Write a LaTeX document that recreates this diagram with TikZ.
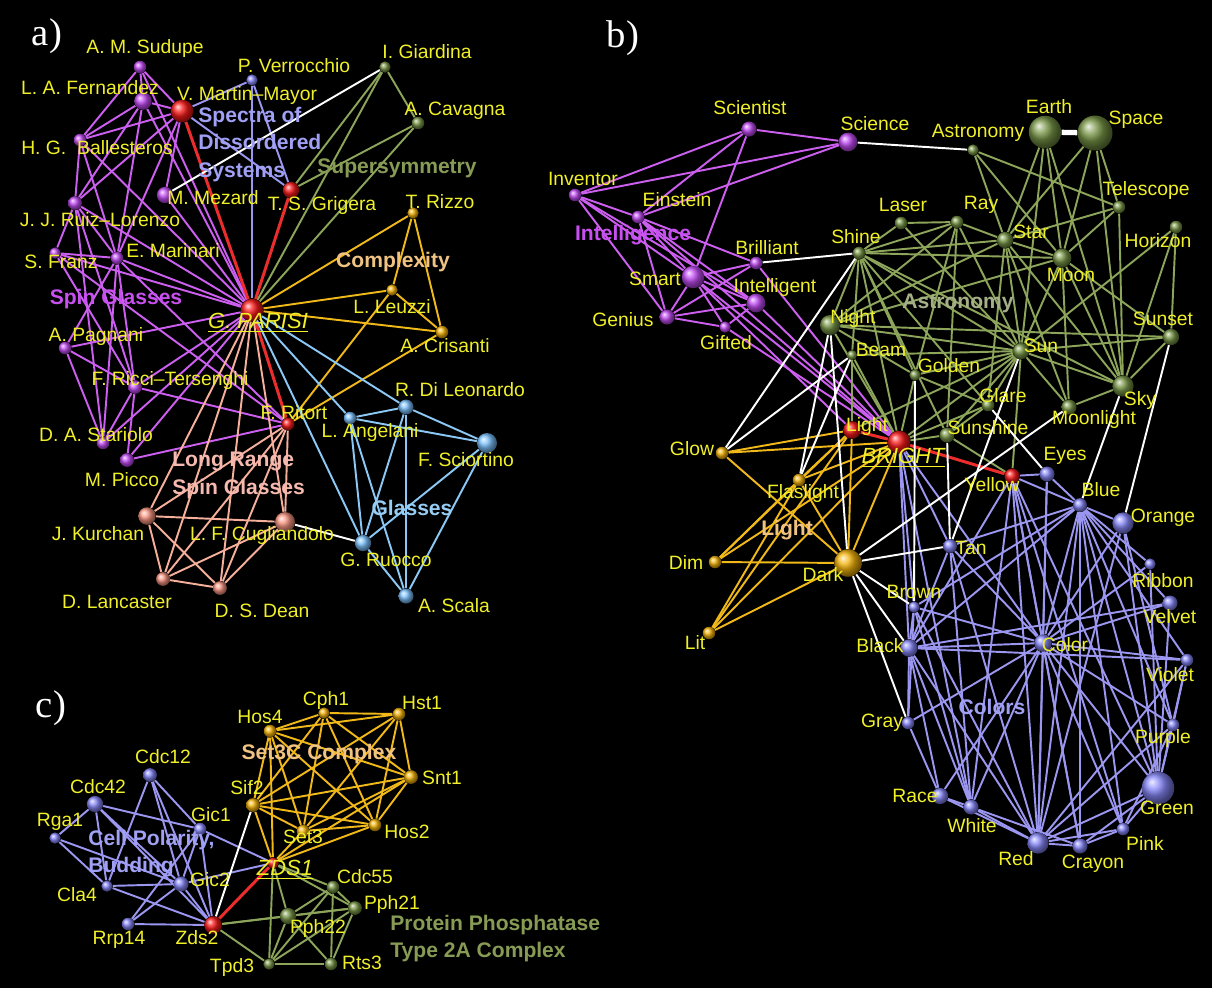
\documentclass[tikz,border=0pt]{standalone}
\usepackage{fontspec}
\setmainfont{Liberation Sans}
\newfontfamily\panelfont{Liberation Serif}

\definecolor{labyel}{RGB}{240,240,40}
\definecolor{vioball}{RGB}{195,75,245}
\definecolor{violine}{RGB}{205,95,240}
\definecolor{grnball}{RGB}{120,150,70}
\definecolor{grnline}{RGB}{140,165,90}
\definecolor{oraball}{RGB}{245,180,10}
\definecolor{oraline}{RGB}{240,185,25}
\definecolor{bluball}{RGB}{125,195,255}
\definecolor{bluline}{RGB}{140,200,245}
\definecolor{lavball}{RGB}{135,135,250}
\definecolor{lavline}{RGB}{155,150,240}
\definecolor{pnkball}{RGB}{250,150,130}
\definecolor{pnkline}{RGB}{245,175,155}
\definecolor{redball}{RGB}{250,25,25}
\definecolor{redline}{RGB}{235,45,45}
\definecolor{vioclus}{RGB}{200,80,240}
\definecolor{lavclus}{RGB}{160,160,245}
\definecolor{grnclus}{RGB}{135,155,85}
\definecolor{oraclus}{RGB}{240,195,130}
\definecolor{pnkclus}{RGB}{245,185,175}
\definecolor{bluclus}{RGB}{150,205,245}
\definecolor{astclus}{RGB}{165,175,135}

\pgfdeclarelayer{back}
\pgfdeclarelayer{edges}
\pgfsetlayers{back,edges,main}

\tikzset{
  sph/.style={circle, inner sep=0pt, minimum size=#1*0.025cm},
  vio/.style={sph=#1, ball color=vioball},
  grn/.style={sph=#1, ball color=grnball},
  ora/.style={sph=#1, ball color=oraball},
  blu/.style={sph=#1, ball color=bluball},
  lav/.style={sph=#1, ball color=lavball},
  pnk/.style={sph=#1, ball color=pnkball},
  rd/.style={sph=#1, ball color=redball},
  lab/.style={text=labyel, inner sep=0pt, font=\fontsize{11}{13}\selectfont},
  hub/.style={text=labyel, inner sep=0pt, font=\fontsize{12.5}{15}\selectfont\itshape},
  clus/.style={inner sep=0pt, align=left, font=\fontsize{12}{15.5}\selectfont\bfseries},
  panel/.style={text=white, inner sep=0pt, font=\fontsize{22}{24}\selectfont\panelfont},
  vioedge/.style={draw=violine, line width=1.1pt},
  grnedge/.style={draw=grnline, line width=1.1pt},
  oraedge/.style={draw=oraline, line width=1.1pt},
  bluedge/.style={draw=bluline, line width=1.1pt},
  lavedge/.style={draw=lavline, line width=1.1pt},
  pnkedge/.style={draw=pnkline, line width=1.1pt},
  rededge/.style={draw=redline, line width=1.7pt},
  whtedge/.style={draw=white, line width=1.1pt}
}

\begin{document}
\begin{tikzpicture}[x=0.02cm, y=-0.02cm]
  \useasboundingbox (0,0) rectangle (1212,988);
  \begin{pgfonlayer}{back}
    \fill[black] (0,0) rectangle (1212,988);
  \end{pgfonlayer}

  % panel a
  \foreach \n/\x/\y/\d in {sud/140/67/10, fer/143/101/14, bal/80/140/10, ruiz/75/203/11,
      mez/165/195/13, mar/117/258/10, fra/55/253/9, pag/65/348/10, ric/135/387/11,
      sta/103/443/10, pic/127/460/11}
    \node[vio=\d] (\n) at (\x,\y) {};
  \foreach \n/\x/\y/\d in {mm/182/111/18, gri/291/190/13, par/252/310/18, rit/288/424/10}
    \node[rd=\d] (\n) at (\x,\y) {};
  \node[lav=9] (ver) at (252,80) {};
  \foreach \n/\x/\y/\d in {gia/385/67/9, cav/418/123/10}
    \node[grn=\d] (\n) at (\x,\y) {};
  \foreach \n/\x/\y/\d in {riz/413/213/9, leu/392/290/9, cri/442/332/10}
    \node[ora=\d] (\n) at (\x,\y) {};
  \foreach \n/\x/\y/\d in {kur/147/516/14, cug/285/522/16, lan/163/579/11, dea/220/588/11}
    \node[pnk=\d] (\n) at (\x,\y) {};
  \foreach \n/\x/\y/\d in {ang/350/418/10, dil/406/407/12, sci/487/443/16, ruo/363/543/13, sca/406/596/12}
    \node[blu=\d] (\n) at (\x,\y) {};

  % panel b
  \foreach \n/\x/\y/\d in {bsct/749/129/12, bsci/848/142/15, binv/575/195/10, bein/638/217/10,
      bbri/756/263/10, bsma/693/277/18, bint/756/303/15, bgen/667/317/12, bgif/725/327/9}
    \node[vio=\d] (\n) at (\x,\y) {};
  \foreach \n/\x/\y/\d in {bshi/859/253/10, bnig/830/325/16, bbea/852/355/8, bast/973/150/9,
      bear/1045/132/26, bspa/1095/133/28, blas/901/223/10, bray/957/222/10, bsta/1005/240/13,
      btel/1119/207/10, bhor/1176/227/10, bmoo/1062/258/15, bsus/1171/337/13, bsun/1021/351/13,
      bgol/915/375/9, bgla/988/405/10, bsky/1123/386/17, bmol/1069/407/12, bssh/947/435/12}
    \node[grn=\d] (\n) at (\x,\y) {};
  \foreach \n/\x/\y/\d in {blig/852/430/14, bbr/899/442/18, byel/1012/476/12}
    \node[rd=\d] (\n) at (\x,\y) {};
  \foreach \n/\x/\y/\d in {bglo/722/453/10, bfla/799/480/10, bdim/715/562/10, bdar/848/563/22, blit/709/633/10}
    \node[ora=\d] (\n) at (\x,\y) {};
  \foreach \n/\x/\y/\d in {beye/1047/474/12, bblu/1080/505/11, bora/1123/523/17, btan/950/546/11,
      brib/1150/564/9, bvel/1170/603/12, bbro/914/607/9, bbla/909/648/14, bcol/1043/643/14,
      bvio/1187/660/10, bgra/908/723/10, bpur/1173/725/10, brac/940/796/13, bgre/1158/788/26,
      bwhi/971/807/12, bpin/1123/829/10, bred/1038/843/17, bcra/1080/846/12}
    \node[lav=\d] (\n) at (\x,\y) {};

  % panel c
  \foreach \n/\x/\y/\d in {ccdc12/150/775/11, ccdc42/95/804/13, crga/55/838/9, cgic1/200/829/10,
      ccla/107/886/9, cgic2/181/884/12, crrp/128/924/10}
    \node[lav=\d] (\n) at (\x,\y) {};
  \foreach \n/\x/\y/\d in {czds2/213/925/14, czds1/273/863/9}
    \node[rd=\d] (\n) at (\x,\y) {};
  \foreach \n/\x/\y/\d in {chos4/270/731/10, csif/253/805/11, ccph/324/713/9, chst/399/714/10,
      csnt/411/777/11, chos2/375/825/10, cset3/303/831/10}
    \node[ora=\d] (\n) at (\x,\y) {};
  \foreach \n/\x/\y/\d in {ccdc55/333/887/10, cpph21/355/908/11, cpph22/288/916/13, ctpd/269/964/9, crts/331/964/10}
    \node[grn=\d] (\n) at (\x,\y) {};

  \begin{pgfonlayer}{edges}
    % panel a
    \foreach \a/\b in {sud/fer, sud/mm, sud/bal, sud/par, fer/mm, fer/bal, fer/ruiz, fer/par, fer/mar,
        mm/bal, mm/ruiz, mm/mar, mm/mez, bal/ruiz, bal/par, bal/mar, ruiz/fra, ruiz/mar, ruiz/par,
        ruiz/ric, ruiz/sta, mez/par, mar/fra, mar/par, mar/ric, mar/sta, mar/rit, mar/pag, fra/par,
        fra/ric, fra/rit, pag/par, pag/ric, pag/sta, ric/par, ric/rit, ric/sta, ric/pic, sta/par,
        pic/rit, pic/par}
      \draw[vioedge] (\a) -- (\b);
    \foreach \a/\b in {par/mm, par/gri, par/rit}
      \draw[rededge] (\a) -- (\b);
    \foreach \a/\b in {ver/par, ver/gri, mm/gri, ver/mm}
      \draw[lavedge] (\a) -- (\b);
    \foreach \a/\b in {gia/gri, gia/cav, gia/par, cav/gri, cav/par}
      \draw[grnedge] (\a) -- (\b);
    \foreach \a/\b in {riz/par, riz/leu, riz/cri, leu/par, leu/cri, cri/par, leu/rit, cri/rit}
      \draw[oraedge] (\a) -- (\b);
    \foreach \a/\b in {par/kur, par/lan, par/dea, par/cug, rit/kur, rit/lan, rit/dea, rit/cug,
        kur/cug, kur/dea, kur/lan, lan/dea, lan/cug, dea/cug}
      \draw[pnkedge] (\a) -- (\b);
    \foreach \a/\b in {par/ang, par/dil, par/ruo, ang/dil, ang/sci, ang/ruo, ang/sca, dil/sci,
        dil/ruo, dil/sca, sci/ruo, sci/sca, ruo/sca}
      \draw[bluedge] (\a) -- (\b);
    \foreach \a/\b in {mez/gia, cug/ruo}
      \draw[whtedge] (\a) -- (\b);

    % panel b
    \foreach \a/\b in {bsct/bsci, bsct/binv, bsct/bein, bsct/bsma, binv/bsci, bein/bsci,
        binv/bein, binv/bsma, binv/bgen, binv/bint, bein/bgen, bein/bsma, bein/bint, bein/bbri,
        bein/bbr, bsma/bbri, bsma/bint, bsma/bgen, bsma/bgif, bsma/bbr, bsma/blig, bgen/bbri,
        bgen/bint, bgen/bgif, bint/bgif, bint/bbr, bbri/bbr, bgif/bbr}
      \draw[vioedge] (\a) -- (\b);
    \foreach \a/\b in {bast/bsta, bast/btel, bast/bmoo, bear/bmoo, bear/bsky, bear/bsta, bear/bsun,
        bspa/bmoo, bspa/bsta, bspa/btel, bspa/bsky, btel/bsta, btel/bmoo, btel/bsky,
        bhor/bsus, bhor/bsky, bhor/bsun, blas/bray, blas/bshi, blas/bsun, bray/bshi, bray/bsta,
        bray/bsun, bray/bgol, bray/bnig, bray/bssh, bsta/bshi, bsta/bmoo, bsta/bsun, bsta/bsky,
        bsta/bmol, bsta/bnig, bsta/bgla, bmoo/bshi, bmoo/bsun, bmoo/bsky, bmoo/bmol, bmoo/bsus,
        bmoo/bnig, bsun/bshi, bsun/bnig, bsun/bbea, bsun/bgol, bsun/bgla, bsun/bssh, bsun/bsky,
        bsun/bsus, bsun/bmol, bsun/bbr, bsun/blig, bsky/bsus, bsky/bmol, bsky/bshi, bshi/bnig,
        bshi/bbea, bshi/bgla, bshi/bgol, bshi/bbr, bshi/bssh, bnig/bbr, bnig/bgol, bnig/bsus,
        bbea/bbr, bbea/blig, bgol/bbr, bgol/bgla, bgla/bbr, bssh/bbr, bssh/bgla, byel/bsun,
        byel/bssh}
      \draw[grnedge] (\a) -- (\b);
    \foreach \a/\b in {bbr/blig, bbr/byel}
      \draw[rededge] (\a) -- (\b);
    \foreach \a/\b in {bglo/blig, bglo/bbr, bglo/bdar, bfla/blig, bfla/bbr, bfla/bdar, bdim/bdar,
        bdim/bfla, bdim/bbr, bdim/blig, blit/bdar, blit/bfla, blit/blig, blit/bbr, bdar/blig, bdar/bbr}
      \draw[oraedge] (\a) -- (\b);
    \foreach \a/\b in {byel/bblu, byel/bcol, byel/bred, byel/bwhi, byel/bbla, byel/bcra, byel/bpin,
        byel/bgre, byel/beye, bbr/bbla, bbr/btan, bbr/bcol, bbr/bwhi, bbr/bbro,
        bblu/bora, bblu/brib, bblu/bvel, bblu/bvio, bblu/bpur, bblu/bgre, bblu/bpin, bblu/bcra,
        bblu/bred, bblu/bcol, bblu/bbla, bblu/bbro, bblu/beye, bblu/btan, beye/bred, beye/bcol,
        bora/bcol, bora/bgre, bora/bred, bora/bpur, brib/bgre, brib/bcol, bvel/bcol, bvel/bgre,
        bvel/bbla, bvio/bcol, bvio/bgre, bvio/bpur, bvio/bred, bcol/bbla, bcol/bbro, bcol/btan,
        bcol/bred, bcol/bcra, bcol/bpin, bcol/bgre, bcol/bpur, bcol/bgra, bcol/bwhi, bcol/brac,
        btan/bwhi, btan/bred, btan/bbla, bbro/bbla, bbro/bgra, bbro/bwhi, bbro/bred, bbla/bgra,
        bbla/brac, bbla/bwhi, bbla/bred, bbla/bvio, bgra/brac, brac/bwhi, brac/bred, bwhi/bred,
        bwhi/bcra, bred/bcra, bred/bpin, bred/bgre, bred/bpur, bcra/bgre, bcra/bpin, bpin/bgre,
        bpin/bpur, bgre/bpur}
      \draw[lavedge] (\a) -- (\b);
    \foreach \a/\b in {bsci/bast, bbri/bshi, bglo/bshi, bglo/bbea, bfla/bnig, bfla/bbea, bdar/bnig,
        bdar/btan, bdar/bmol, bdar/bbro, bdar/bbla, bdar/bgra, bgol/bbro, bsun/btan, bssh/btan,
        bgla/beye, bsky/bblu, bsus/bora}
      \draw[whtedge] (\a) -- (\b);
    \draw[whtedge, line width=3pt] (bear) -- (bspa);

    % panel c
    \foreach \a/\b in {ccdc42/crga, ccdc42/cgic1, ccdc42/ccla, ccdc42/cgic2, ccdc42/czds2,
        crga/ccla, crga/cgic2, ccdc12/cgic1, ccdc12/cgic2, ccdc12/ccla, ccdc12/czds2,
        cgic1/cgic2, cgic1/czds2, cgic1/czds1, cgic1/crrp, cgic2/ccla, cgic2/crrp, cgic2/czds2,
        cgic2/czds1, ccla/czds2, crrp/czds2}
      \draw[lavedge] (\a) -- (\b);
    \draw[rededge] (czds2) -- (czds1);
    \draw[whtedge] (czds2) -- (csif);
    \foreach \a/\b in {chos4/ccph, chos4/chst, chos4/csnt, chos4/chos2, chos4/cset3, chos4/csif,
        chos4/czds1, ccph/chst, ccph/csnt, ccph/chos2, ccph/cset3, ccph/csif, chst/csnt,
        chst/chos2, chst/cset3, chst/csif, csnt/chos2, csnt/cset3, csnt/csif, csnt/czds1,
        chos2/cset3, chos2/csif, chos2/czds1, cset3/csif, cset3/czds1, csif/czds1}
      \draw[oraedge] (\a) -- (\b);
    \foreach \a/\b in {czds1/ccdc55, czds1/cpph21, czds1/cpph22, czds1/ctpd, czds2/cpph21,
        czds2/cpph22, czds2/ctpd, ccdc55/cpph21, ccdc55/cpph22, ccdc55/ctpd, ccdc55/crts,
        cpph21/cpph22, cpph21/ctpd, cpph21/crts, cpph22/ctpd, cpph22/crts, ctpd/crts}
      \draw[grnedge] (\a) -- (\b);
  \end{pgfonlayer}

  % labels
  \node[panel] (pa) at (47,36) {a)};
  \node[panel] (pb) at (623,38) {b)};
  \node[panel] (pc) at (51,708) {c)};

  \foreach \n/\x/\y/\t in {sud/145/48/A. M. Sudupe, fer/90/88/L. A. Fernandez, mm/247/95/V. Martin–Mayor,
      ver/294/66/P. Verrocchio, bal/97/148/H. G.\ \ Ballesteros, ruiz/100/220/J. J. Ruiz–Lorenzo,
      mez/213/198/M. Mezard, gri/322/205/T. S. Grigera, gia/427/52/I. Giardina, cav/455/111/A. Cavagna,
      riz/440/202/T. Rizzo, leu/392/307/L. Leuzzi, cri/445/346/A. Crisanti, mar/173/251/E. Marinari,
      fra/61/262/S. Franz, pag/96/336/A. Pagnani, ric/170/380/F. Ricci–Tersenghi,
      sta/96/435/D. A. Stariolo, pic/122/480/M. Picco, rit/294/413/F. Ritort, kur/98/534/J. Kurchan,
      cug/262/535/L. F. Cugliandolo, lan/117/602/D. Lancaster, dea/262/611/D. S. Dean,
      ang/370/432/L. Angelani, dil/460/390/R. Di Leonardo, sci/466/460/F. Sciortino,
      ruo/386/560/G. Ruocco, sca/454/606/A. Scala}
    \node[lab] (l\n) at (\x,\y) {\t};

  \foreach \n/\x/\y/\t in {bsct/750/108/Scientist, bsci/875/124/Science, binv/583/179/Inventor,
      bein/677/200/Einstein, bbri/767/248/Brilliant, bsma/655/279/Smart, bint/775/287/Intelligent,
      bgen/623/320/Genius, bgif/726/343/Gifted, bshi/856/237/Shine, bnig/853/318/Night,
      bbea/881/350/Beam, bast/978/133/Astronomy, bear/1049/107/Earth, bspa/1136/120/Space,
      blas/903/205/Laser, bray/981/205/Ray, bsta/1031/232/Star, btel/1146/190/Telescope,
      bhor/1158/241/Horizon, bmoo/1071/275/Moon, bsus/1163/319/Sunset, bsun/1041/346/Sun,
      bgol/949/366/Golden, bgla/1003/396/Glare, bsky/1140/400/Sky, bmol/1094/419/Moonlight,
      bssh/988/428/Sunshine, blig/867/426/Light, byel/992/485/Yellow, bglo/692/449/Glow,
      bfla/803/493/Flaslight, bdim/686/562/Dim, bdar/823/575/Dark, blit/695/643/Lit,
      beye/1065/456/Eyes, bblu/1101/490/Blue, bora/1163/518/Orange, btan/971/548/Tan,
      brib/1163/581/Ribbon, bvel/1170/617/Velvet, bbro/914/592/Brown, bbla/880/646/Black,
      bcol/1065/645/Color, bvio/1170/675/Violet, bgra/882/723/Gray, bpur/1163/738/Purple,
      brac/915/796/Race, bgre/1167/808/Green, bwhi/972/826/White, bpin/1145/843/Pink,
      bred/1016/859/Red, bcra/1093/864/Crayon}
    \node[lab] (l\n) at (\x,\y) {\t};

  \foreach \n/\x/\y/\t in {ccdc12/163/757/Cdc12, ccdc42/98/787/Cdc42, crga/60/822/Rga1,
      cgic1/211/815/Gic1, ccla/77/895/Cla4, cgic2/210/880/Gic2, crrp/119/940/Rrp14,
      czds2/197/938/Zds2, chos4/260/717/Hos4, csif/247/788/Sif2, ccph/326/700/Cph1,
      chst/422/703/Hst1, csnt/442/778/Snt1, chos2/407/832/Hos2, cset3/303/837/Set3,
      ccdc55/365/877/Cdc55, cpph21/392/904/Pph21, cpph22/318/928/Pph22, ctpd/232/967/Tpd3,
      crts/362/963/Rts3}
    \node[lab] (l\n) at (\x,\y) {\t};

  \node[hub] (lpar) at (258,323) {\underline{G. PARISI}};
  \node[hub] (lbbr) at (903,458) {\underline{BRIGHT}};
  \node[hub] (lczds1) at (285,870) {\underline{ZDS1}};

  \node[clus, text=vioclus] (kspin) at (116,299) {Spin Glasses};
  \node[clus, text=lavclus, anchor=north west] (kspec) at (198,107) {Spectra of\\Dissordered\\Systems};
  \node[clus, text=grnclus] (ksusy) at (397,168) {Supersymmetry};
  \node[clus, text=oraclus] (kcomp) at (393,262) {Complexity};
  \node[clus, text=pnkclus, anchor=north west] (klong) at (172,452) {Long Range\\Spin Glasses};
  \node[clus, text=bluclus] (kglas) at (412,508) {Glasses};
  \node[clus, text=vioclus] (kintl) at (633,235) {Intelligence};
  \node[clus, text=astclus] (kastr) at (958,303) {Astronomy};
  \node[clus, text=oraclus] (klght) at (787,530) {Light};
  \node[clus, text=lavclus] (kcols) at (992,707) {Colors};
  \node[clus, text=oraclus] (kset3) at (319,754) {Set3C Complex};
  \node[clus, text=lavclus, anchor=north west] (kcell) at (88,830) {Cell Polarity,\\Budding};
  \node[clus, text=grnclus, anchor=north west] (kpp2a) at (390,915) {Protein Phosphatase\\Type 2A Complex};
\end{tikzpicture}
\end{document}
